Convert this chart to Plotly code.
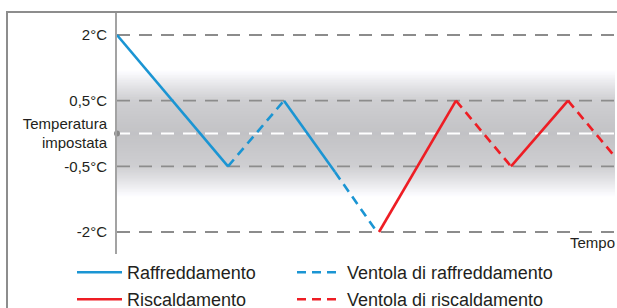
import numpy as np
import plotly.graph_objects as go

# ---- axis definition (non-linear temperature scale) ----
tick_temps = [-2, -0.5, 0, 0.5, 2]
tick_levels = [-3, -1, 0, 1, 3]
tick_labels = ["-2°C", "-0,5°C", "Temperatura<br>impostata", "0,5°C", "2°C"]
grid_temps = [-2, -0.5, 0.5, 2]
setpoint_temp = 0

# ---- series: time (arbitrary units), temperature (°C); None = break ----
cool_time = [0, 11.1, None, 16.7, 21.8]
cool_temp = [2, -0.5, None, 0.5, -0.63]
coolfan_time = [11.1, 16.7, None, 21.8, 26.0]
coolfan_temp = [-0.5, 0.5, None, -0.63, -2]
heat_time = [26.2, 33.9, None, 39.4, 45.1]
heat_temp = [-2, 0.5, None, -0.5, 0.5]
heatfan_time = [33.9, 39.4, None, 45.1, 50.6]
heatfan_temp = [0.5, -0.5, None, 0.5, -0.5]

x_range = [0, 49.8]
y_range = [-3.67, 3.70]


def lvl(vals):
    return [None if v is None else float(np.interp(v, tick_temps, tick_levels)) for v in vals]


BLUE = "#1b95d3"
RED = "#ee1d24"
FONT = "Liberation Sans, Arial, sans-serif"
TXT = "#231f20"

fig = go.Figure()
fig.add_trace(go.Scatter(x=cool_time, y=lvl(cool_temp), mode="lines", name="Raffreddamento",
                         line=dict(color=BLUE, width=2.6), legend="legend"))
fig.add_trace(go.Scatter(x=coolfan_time, y=lvl(coolfan_temp), mode="lines", name="Ventola di raffreddamento",
                         line=dict(color=BLUE, width=2.6, dash="9px,6px"), legend="legend2"))
fig.add_trace(go.Scatter(x=heat_time, y=lvl(heat_temp), mode="lines", name="Riscaldamento",
                         line=dict(color=RED, width=2.6), legend="legend3"))
fig.add_trace(go.Scatter(x=heatfan_time, y=lvl(heatfan_temp), mode="lines", name="Ventola di riscaldamento",
                         line=dict(color=RED, width=2.6, dash="9px,6px"), legend="legend4"))
# setpoint dot on the axis
fig.add_trace(go.Scatter(x=[x_range[0]], y=lvl([setpoint_temp]), mode="markers", showlegend=False,
                         marker=dict(color="#8a8a8a", size=6), cliponaxis=False, hoverinfo="skip"))

shapes = []
# gray gradient band around the setpoint: nested rects, outermost first
n = 70
dists = np.linspace(2.2, 0.0, n, endpoint=False)
for d in dists:
    if d <= 1:
        g = 194 + 12 * d
    else:
        f = min((d - 1) / 0.95, 1)
        g = 206 + (255 - 206) * (f ** 1.1)
    g = int(round(min(g, 255)))
    shapes.append(dict(type="rect", xref="paper", yref="y", x0=0, x1=1, y0=-d, y1=d,
                       fillcolor=f"rgb({g},{g},{min(g + 3, 255)})", line=dict(width=0), layer="below"))
# dashed grid lines
for t in grid_temps:
    yv = lvl([t])[0]
    shapes.append(dict(type="line", xref="paper", yref="y", x0=0, x1=1, y0=yv, y1=yv,
                       line=dict(color="#8c8c8c", width=1.8, dash="13px,9px"), layer="below"))
yv0 = lvl([setpoint_temp])[0]
shapes.append(dict(type="line", xref="paper", yref="y", x0=0, x1=1, y0=yv0, y1=yv0,
                   line=dict(color="white", width=2.2, dash="13px,9px"), layer="below"))
# outer frame
W, H = 617, 308
ml, mr, mt, mb = 117, 2, 12, 54
pw, ph = W - ml - mr, H - mt - mb
shapes.append(dict(type="rect", xref="paper", yref="paper",
                   x0=(7 - ml) / pw, x1=(W + 20 - ml) / pw,
                   y0=-(H + 20 - mt - ph) / ph, y1=1,
                   line=dict(color="#8d8d8d", width=2), fillcolor="rgba(0,0,0,0)", layer="above"))

leg_common = dict(orientation="h", xanchor="left", yanchor="top",
                  font=dict(size=18, color=TXT, family=FONT), bgcolor="rgba(0,0,0,0)", itemwidth=45,
                  tracegroupgap=0)
col_x = [(72 - ml) / pw, (292 - ml) / pw]
row_y = [(254 - 254) / ph, (254 - 281) / ph]

fig.update_layout(
    width=W, height=H,
    margin=dict(l=ml, r=mr, t=mt, b=mb, pad=0, autoexpand=False),
    paper_bgcolor="white", plot_bgcolor="white",
    font=dict(family=FONT, color=TXT, size=15),
    shapes=shapes,
    xaxis=dict(range=x_range, showgrid=False, zeroline=False, showticklabels=False, ticks="",
               showline=False, fixedrange=True),
    yaxis=dict(range=y_range, tickvals=tick_levels, ticktext=tick_labels, showgrid=False, zeroline=False,
               ticks="", showline=True, linecolor="#a3a3a3", linewidth=2, ticklabelstandoff=5,
               tickfont=dict(size=15, color=TXT, family=FONT), fixedrange=True),
    legend=dict(x=col_x[0], y=row_y[0], **leg_common),
    legend2=dict(x=col_x[1], y=row_y[0], **leg_common),
    legend3=dict(x=col_x[0], y=row_y[1], **leg_common),
    legend4=dict(x=col_x[1], y=row_y[1], **leg_common),
    annotations=[dict(text="Tempo", xref="paper", yref="y", x=1 + 2 / pw, y=-3.33, xanchor="right",
                      yanchor="middle", showarrow=False, font=dict(size=15, color=TXT, family=FONT))],
)

fig.write_html("out.html", config={"displayModeBar": False},
               post_script="document.body.style.margin='0';document.body.style.overflow='hidden';")
